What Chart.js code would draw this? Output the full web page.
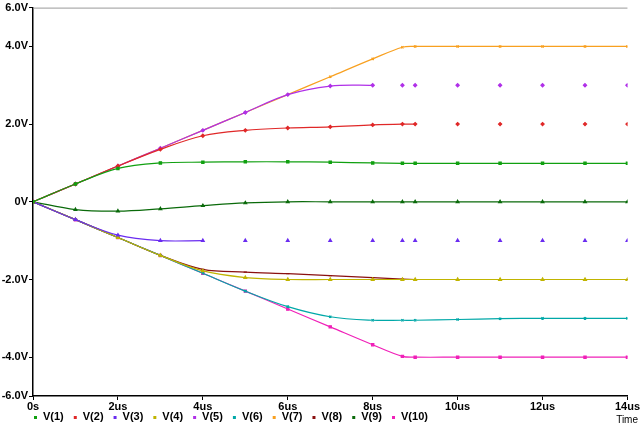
<!DOCTYPE html>
<html>
<head>
<meta charset="utf-8">
<script src="https://cdn.jsdelivr.net/npm/chart.js@4"></script>
<style>
  body { margin: 0; background: #fff; }
  #wrap { width: 640px; height: 425px; }
</style>
</head>
<body>
<div id="wrap"><canvas id="c"></canvas></div>
<script>
// time in us
var times = [0, 1, 2, 3, 4, 5, 6, 7, 8, 8.7, 9, 10, 11, 12, 13, 14];

var v1  = [0, 0.46, 0.86, 1.0, 1.02, 1.03, 1.03, 1.02, 1.0, 0.99, 0.99, 0.99, 0.99, 0.99, 0.99, 0.99];
var v2  = [0, 0.46, 0.92, 1.35, 1.7, 1.84, 1.9, 1.93, 1.98, 2.0, 2.0, 2.0, 2.0, 2.0, 2.0, 2.0];
var v3  = [0, -0.46, -0.86, -1.0, -1.0, -1.0, -1.0, -1.0, -1.0, -1.0, -1.0, -1.0, -1.0, -1.0, -1.0, -1.0];
var v4  = [0, -0.46, -0.92, -1.38, -1.78, -1.95, -2.0, -2.0, -2.0, -2.0, -2.0, -2.0, -2.0, -2.0, -2.0, -2.0];
var v5  = [0, 0.46, 0.92, 1.38, 1.84, 2.3, 2.76, 2.98, 3.0, 3.0, 3.0, 3.0, 3.0, 3.0, 3.0, 3.0];
var v6  = [0, -0.46, -0.92, -1.38, -1.84, -2.3, -2.7, -2.96, -3.05, -3.05, -3.05, -3.03, -3.01, -3.0, -3.0, -3.0];
var v7  = [0, 0.46, 0.92, 1.38, 1.84, 2.3, 2.76, 3.22, 3.68, 3.98, 4.0, 4.0, 4.0, 4.0, 4.0, 4.0];
var v8  = [0, -0.46, -0.92, -1.38, -1.74, -1.81, -1.85, -1.9, -1.95, -1.99, -2.0, -2.0, -2.0, -2.0, -2.0, -2.0];
var v9  = [0, -0.2, -0.24, -0.18, -0.1, -0.03, 0, 0, 0, 0, 0, 0, 0, 0, 0, 0];
var v10 = [0, -0.46, -0.92, -1.38, -1.84, -2.3, -2.76, -3.22, -3.68, -3.98, -4.0, -4.0, -4.0, -4.0, -4.0, -4.0];

var xTicks = { 0: '0s', 2: '2us', 4: '4us', 6: '6us', 8: '8us', 10: '10us', 12: '12us', 14: '14us' };
var yTicks = { 5: '6.0V', 4: '4.0V', 2: '2.0V', 0: '0V', '-2': '-2.0V', '-4': '-4.0V', '-5': '-6.0V' };

function pts(arr) {
  return times.map(function(t, i) { return { x: t, y: arr[i] }; });
}

// name, data, colour, marker, x after which only markers are drawn
var series = [
  ['V(1)', v1, '#10a010', 'rect', 99],
  ['V(2)', v2, '#e02828', 'rectRot', 8.8],
  ['V(3)', v3, '#6a2cf0', 'triangle', 3.5],
  ['V(4)', v4, '#c0b400', 'triangle', 99],
  ['V(5)', v5, '#b030e8', 'rectRot', 7.1],
  ['V(6)', v6, '#00a8a8', 'crossRot', 99],
  ['V(7)', v7, '#f8a020', 'crossRot', 99],
  ['V(8)', v8, '#8a1010', 'line', 99],
  ['V(9)', v9, '#0a6a0a', 'triangle', 99],
  ['V(10)', v10, '#f020b8', 'rect', 99]
];

var datasets = series.map(function(s) {
  var cut = s[4];
  return {
    label: s[0],
    data: pts(s[1]),
    borderColor: s[2],
    backgroundColor: s[2],
    borderWidth: 1.2,
    pointStyle: s[3],
    pointRadius: 1.6,
    tension: 0.35,
    segment: {
      borderColor: function(ctx) { return ctx.p0.parsed.x >= cut ? 'rgba(0,0,0,0)' : s[2]; }
    }
  };
});

var FONT = 'bold 11px Arial, "Liberation Sans", sans-serif';

// PSpice style legend line and "Time" label under the axis
var bottomText = {
  id: 'bottomText',
  afterDraw: function(chart) {
    var c = chart.ctx;
    c.save();
    c.font = FONT;
    c.textBaseline = 'middle';
    var x = 34, y = 417;
    series.forEach(function(s) {
      c.fillStyle = s[2];
      c.fillRect(x, y - 1, 3, 3);
      x += 9;
      c.fillStyle = '#000';
      c.fillText(s[0], x, y);
      x += c.measureText(s[0]).width + 10;
    });
    c.font = '10px Arial, "Liberation Sans", sans-serif';
    c.textAlign = 'right';
    c.fillText('Time', 638, 420);
    c.strokeStyle = '#999';
    c.lineWidth = 1;
    c.beginPath();
    c.moveTo(chart.chartArea.left, chart.chartArea.top + 0.5);
    c.lineTo(chart.chartArea.right, chart.chartArea.top + 0.5);
    c.stroke();
    c.restore();
  }
};

new Chart(document.getElementById('c'), {
  type: 'line',
  data: { datasets: datasets },
  plugins: [bottomText],
  options: {
    responsive: true,
    maintainAspectRatio: false,
    animation: false,
    layout: { padding: { top: 4, right: 4, left: 0, bottom: 0 } },
    plugins: {
      legend: { display: false },
      tooltip: { enabled: false }
    },
    scales: {
      x: {
        type: 'linear',
        min: 0,
        max: 14,
        afterFit: function(a) { a.height = 29; },
        ticks: {
          stepSize: 2,
          maxRotation: 0,
          autoSkip: false,
          color: '#000',
          padding: 0,
          font: { family: 'Arial, "Liberation Sans", sans-serif', size: 11, weight: 'bold' },
          callback: function(v) { return xTicks[v] || ''; }
        },
        grid: { display: true, drawOnChartArea: false, tickLength: 4, color: '#000' },
        border: { color: '#000', width: 1.5 }
      },
      y: {
        min: -5,
        max: 5,
        afterFit: function(a) { a.width = 33; },
        ticks: {
          stepSize: 1,
          autoSkip: false,
          color: '#000',
          padding: 1,
          font: { family: 'Arial, "Liberation Sans", sans-serif', size: 11, weight: 'bold' },
          callback: function(v) { return yTicks[v] || ''; }
        },
        grid: {
          display: true,
          drawOnChartArea: false,
          tickLength: 4,
          color: function(ctx) { return yTicks[ctx.tick.value] !== undefined ? '#000' : 'rgba(0,0,0,0)'; }
        },
        border: { color: '#000', width: 1.5 }
      }
    }
  }
});
</script>
</body>
</html>
